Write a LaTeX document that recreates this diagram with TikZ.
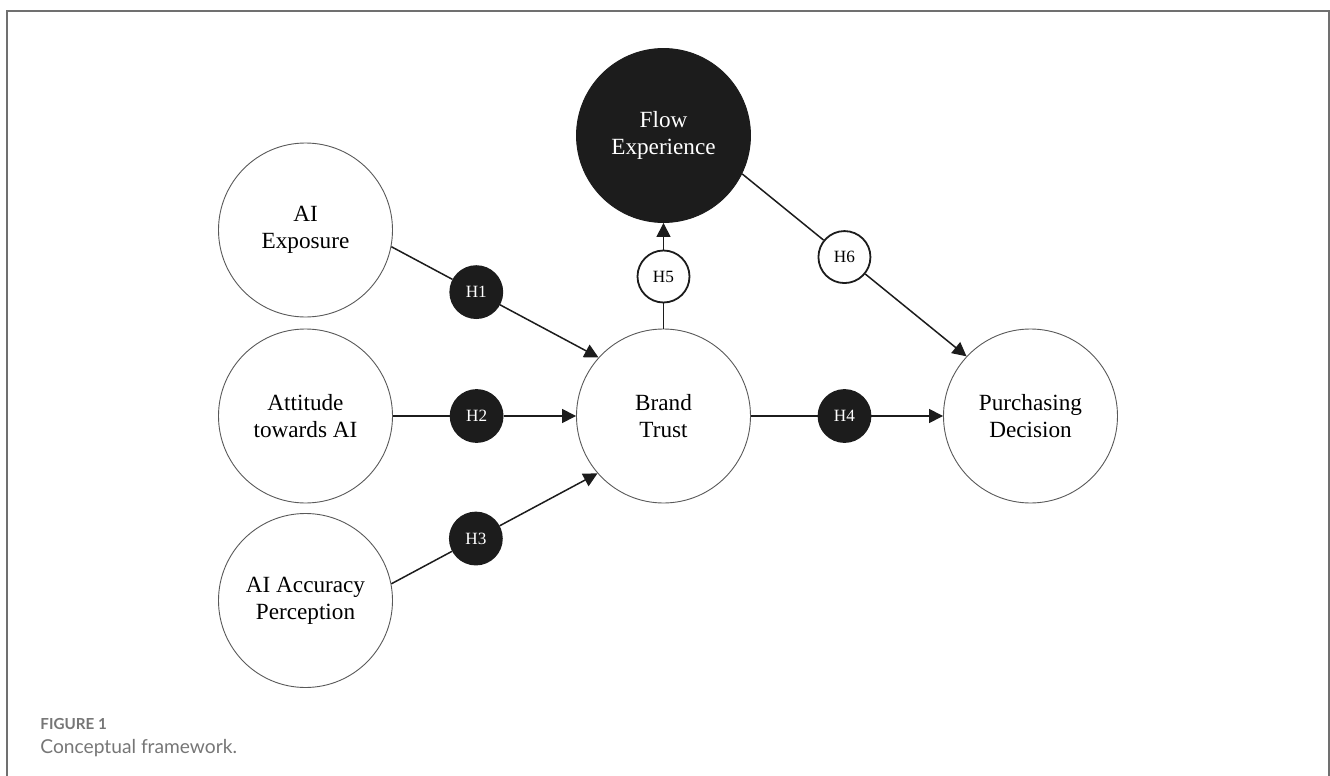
\documentclass[tikz,border=0pt]{standalone}
\usepackage{fontspec}
\setmainfont{Liberation Serif}
\newfontfamily\capfont{Lato}
\usetikzlibrary{arrows.meta,calc}
\definecolor{framegray}{RGB}{112,112,112}
\definecolor{capgray}{RGB}{118,118,118}
\definecolor{darkfill}{RGB}{28,28,28}
\tikzset{
    construct/.style = {circle, draw = black!65, line width = 0.45pt, minimum size = 87pt,
        inner sep = 0pt, align = center, font = \fontsize{11.6}{13.6}\selectfont},
    hyp/.style = {circle, draw = darkfill, line width = 0.9pt, fill = white, minimum size = 26pt,
        inner sep = 0pt, font = \fontsize{8.6}{10}\selectfont},
    hypdark/.style = {hyp, fill = darkfill, text = white},
    link/.style = {line width = 0.75pt, draw = darkfill},
    linkarrow/.style = {link, -{Triangle[length = 7pt, width = 7pt]}}
}
\begin{document}
\begin{tikzpicture}[x = 0.5pt, y = -0.5pt]
    \useasboundingbox (0,0) rectangle (1330,776);
    \draw[framegray, line width = 1pt] (7,776) -- (7,11) -- (1329,11) -- (1329,776);
    % constructs
    \node[construct] (exp) at (305.5,230) {AI\\Exposure};
    \node[construct] (att) at (305.5,416) {Attitude\\towards AI};
    \node[construct] (acc) at (305.5,600.5) {AI Accuracy\\Perception};
    \node[construct] (bt) at (663.5,416) {Brand\\Trust};
    \node[construct, fill = darkfill, draw = darkfill, text = white] (flow) at (663.5,135.5) {Flow\\Experience};
    \node[construct] (pd) at (1030.5,416) {Purchasing\\Decision};
    % hypotheses
    \node[hypdark] (h1) at ($(exp.-11)!0.41!(bt.138)$) {H1};
    \node[hypdark] (h2) at ($(att.east)!0.457!(bt.west)$) {H2};
    \node[hypdark] (h3) at ($(acc.11)!0.41!(bt.-139)$) {H3};
    \node[hypdark] (h4) at ($(bt.east)!0.487!(pd.west)$) {H4};
    \node[hyp] (h5) at (663.5,276.5) {H5};
    \node[hyp] (h6) at ($(flow.-26)!0.456!(pd.137)$) {H6};
    % paths
    \draw[link] (exp.-11) -- (h1);
    \draw[linkarrow] (h1) -- (bt.138);
    \draw[link] (att.east) -- (h2);
    \draw[linkarrow] (h2) -- (bt.west);
    \draw[link] (acc.11) -- (h3);
    \draw[linkarrow] (h3) -- (bt.-139);
    \draw[link] (bt.east) -- (h4);
    \draw[linkarrow] (h4) -- (pd.west);
    \draw[link] (bt.north) -- (h5);
    \draw[linkarrow] (h5) -- (flow.south);
    \draw[link] (flow.-26) -- (h6);
    \draw[linkarrow] (h6) -- (pd.137);
    \begin{scope}[every node/.append style = {text = capgray, anchor = base west, inner sep = 0pt}]
        \node (figlabel) at (40,729) {\capfont\bfseries\fontsize{7.6}{9}\selectfont FIGURE 1};
        \node (figtitle) at (40,753) {\capfont\fontsize{9.6}{11}\selectfont Conceptual framework.};
    \end{scope}
\end{tikzpicture}
\end{document}
